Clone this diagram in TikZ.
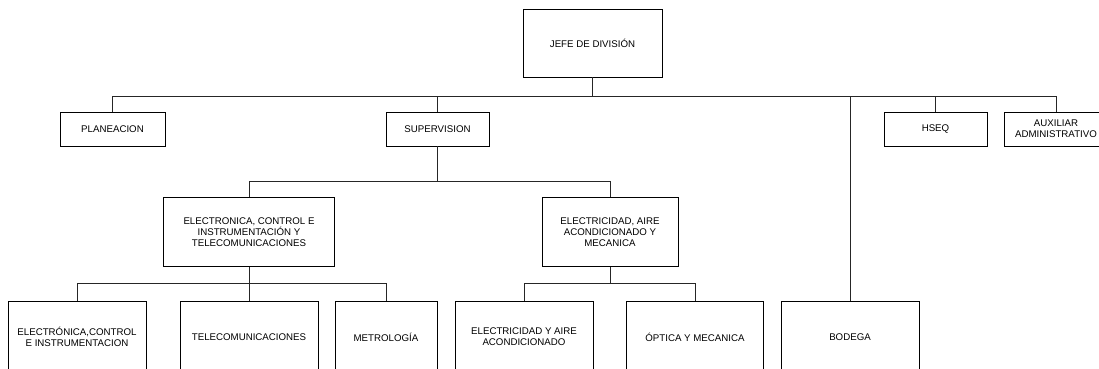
\documentclass[tikz,border=0pt]{standalone}
\usepackage{fontspec}
\setmainfont{Liberation Sans}
\begin{document}
\begin{tikzpicture}[x=1pt,y=-1pt,
  box/.style={draw=black,line width=0.9pt,rectangle,inner sep=0pt,align=center,
    font=\fontsize{9.7}{10.8}\selectfont},
  conn/.style={draw=black!85,line width=0.9pt}]
\useasboundingbox (0,0) rectangle (1099,368);
\clip (0,0) rectangle (1099,368);
\fill[white] (0,0) rectangle (1099,368);
% level 1
\node[box,minimum width=139pt,minimum height=68pt] (jefe) at (592.5,43) {JEFE DE DIVISIÓN};
% level 2
\node[box,minimum width=105pt,minimum height=34pt] (plan) at (112.5,129) {PLANEACION};
\node[box,minimum width=103pt,minimum height=34pt] (sup) at (437.5,129) {SUPERVISION};
\node[box,minimum width=103pt,minimum height=34pt] (hseq) at (935.5,129) {HSEQ};
\node[box,minimum width=103pt,minimum height=34pt] (aux) at (1056,129) {AUXILIAR\\ADMINISTRATIVO};
% level 3
\node[box,minimum width=171pt,minimum height=69pt] (eci) at (249,232.2) {ELECTRONICA, CONTROL E\\INSTRUMENTACIÓN Y\\TELECOMUNICACIONES};
\node[box,minimum width=136pt,minimum height=69pt] (eam) at (610,232.2) {ELECTRICIDAD, AIRE\\ACONDICIONADO Y\\MECANICA};
% level 4
\node[box,minimum width=138pt,minimum height=72pt] (ecin) at (77,337) {ELECTRÓNICA,CONTROL\\E INSTRUMENTACION};
\node[box,minimum width=138pt,minimum height=72pt] (tele) at (249,337) {TELECOMUNICACIONES};
\node[box,minimum width=102pt,minimum height=72pt] (metro) at (386,337) {METROLOGÍA};
\node[box,minimum width=138pt,minimum height=72pt] (elec) at (524,337) {ELECTRICIDAD Y AIRE\\ACONDICIONADO};
\node[box,minimum width=137pt,minimum height=72pt] (opt) at (695,337) {ÓPTICA Y MECANICA};
\node[box,minimum width=138pt,minimum height=72pt] (bod) at (850,337) {BODEGA};
% bar levels
\coordinate (ya) at (0,96);
\coordinate (yb) at (0,181);
\coordinate (yc) at (0,283.5);
% connectors level 1
\draw[conn] (jefe.south) -- (jefe.south |- ya);
\draw[conn] (plan.north) -- (plan.north |- ya) -- (aux.north |- ya) -- (aux.north);
\draw[conn] (sup.north) -- (sup.north |- ya);
\draw[conn] (hseq.north) -- (hseq.north |- ya);
\draw[conn] (bod.north) -- (bod.north |- ya);
% connectors level 2
\draw[conn] (sup.south) -- (sup.south |- yb);
\draw[conn] (eci.north) -- (eci.north |- yb) -- (eam.north |- yb) -- (eam.north);
% connectors level 3
\draw[conn] (eci.south) -- (tele.north);
\draw[conn] (ecin.north) -- (ecin.north |- yc) -- (metro.north |- yc) -- (metro.north);
\draw[conn] (eam.south) -- (eam.south |- yc);
\draw[conn] (elec.north) -- (elec.north |- yc) -- (opt.north |- yc) -- (opt.north);
\end{tikzpicture}
\end{document}
